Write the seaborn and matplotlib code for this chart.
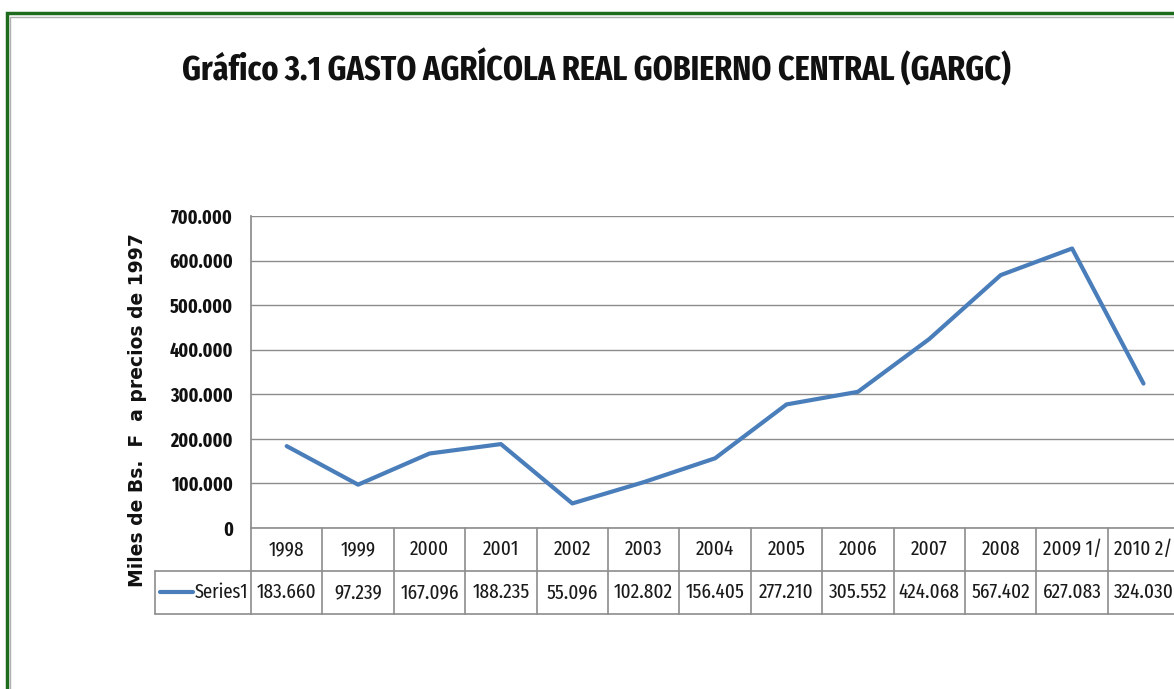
#!/usr/bin/env python3

# Gasto agricola real del gobierno central, line chart with data table.

import matplotlib
matplotlib.use("Agg")
import matplotlib.pyplot as plt
from matplotlib.patches import Rectangle
from matplotlib.ticker import FuncFormatter
import pandas
import seaborn as sns

years = ["1998", "1999", "2000", "2001", "2002", "2003", "2004",
         "2005", "2006", "2007", "2008", "2009 1/", "2010 2/"]
gasto = [183660, 97239, 167096, 188235, 55096, 102802, 156405,
         277210, 305552, 424068, 567402, 627083, 324030]
yticks = [0, 100000, 200000, 300000, 400000, 500000, 600000, 700000]
series_name = "Series1"

title = "Gráfico 3.1 GASTO AGRÍCOLA REAL GOBIERNO CENTRAL (GARGC)"
ylabel = "Miles de Bs.  F  a precios de 1997"

sns.set_theme(style="white")
narrow = ["Fira Sans Extra Condensed", "Roboto Condensed", "DejaVu Sans"]
plt.rcParams["font.family"] = narrow

df = pandas.DataFrame({"year": years, "value": gasto})


def miles(v, pos=None):
    return f"{int(round(v)):,}".replace(",", ".")


fig = plt.figure(figsize=(11.74, 6.89), dpi=100)
# plot area runs a bit past the right edge, like the cropped original
ax = fig.add_axes([251 / 1174, 0.2337, 13 * 71.4 / 1174, 0.4528])

sns.lineplot(data=df, x="year", y="value", ax=ax, color="#4A7EBB",
             linewidth=3, sort=False)

ax.set_xlim(-0.5, len(years) - 0.5)
ax.set_ylim(0, 700000)
ax.set_yticks(yticks)
ax.yaxis.set_major_formatter(FuncFormatter(miles))
ax.grid(axis="y", color="#8c8c8c", linewidth=1)
ax.set_axisbelow(True)
for side in ["top", "right", "bottom"]:
    ax.spines[side].set_visible(False)
ax.spines["left"].set_color("#8c8c8c")
ax.tick_params(axis="y", length=0, pad=13, labelsize=14, labelcolor="#111111")
for lab in ax.get_yticklabels():
    lab.set_fontweight("bold")
ax.set_xticks([])
ax.set_xlabel("")
ax.set_ylabel("")

# data table under the plot
trans = ax.get_xaxis_transform()
row_h = 43 / 313.0
tbl_col = "#8c8c8c"
ax.plot([-0.5, len(years) - 0.5], [0, 0], transform=trans, color=tbl_col,
        linewidth=1.2, clip_on=False)
for i, (yr, v) in enumerate(zip(years, gasto)):
    ax.text(i, -row_h / 2, yr, transform=trans, ha="center", va="center",
            fontsize=15, color="#1a1a1a")
    ax.text(i, -row_h * 1.5, miles(v), transform=trans, ha="center",
            va="center", fontsize=15, color="#1a1a1a")
for i in range(len(years) + 1):
    ax.plot([i - 0.5, i - 0.5], [0, -2 * row_h], transform=trans,
            color=tbl_col, linewidth=1.2, clip_on=False)
leg_x0 = -0.5 - 96 / 71.4
ax.plot([leg_x0, len(years) - 0.5], [-row_h, -row_h], transform=trans,
        color=tbl_col, linewidth=1.2, clip_on=False)
ax.plot([leg_x0, len(years) - 0.5], [-2 * row_h, -2 * row_h],
        transform=trans, color=tbl_col, linewidth=1.2, clip_on=False)
ax.plot([leg_x0, leg_x0], [-row_h, -2 * row_h], transform=trans,
        color=tbl_col, linewidth=1.2, clip_on=False)
ax.plot([leg_x0 + 0.07, leg_x0 + 0.53], [-row_h * 1.5, -row_h * 1.5],
        transform=trans, color="#4A7EBB", linewidth=3, clip_on=False)
ax.text(-0.54, -row_h * 1.5, series_name, transform=trans, ha="right",
        va="center", fontsize=14.5, color="#1a1a1a")

fig.text(0.508, 0.9, title, ha="center", va="center", fontsize=25,
         fontweight="bold", color="#111111")
fig.text(0.117, 0.405, ylabel, rotation=90, ha="center", va="center",
         fontsize=13.5, fontweight="bold", color="#111111",
         family=["DejaVu Sans"])

# green frame
fig.patches.append(Rectangle((7 / 1174, -0.1), 1.2, 0.1 + 676 / 689,
                             transform=fig.transFigure, fill=False,
                             edgecolor="#1e6b1e", linewidth=2.5))
fig.patches.append(Rectangle((10 / 1174, -0.1), 1.2, 0.1 + 672 / 689,
                             transform=fig.transFigure, fill=False,
                             edgecolor="#b0b0b0", linewidth=1))

fig.savefig("out.png", dpi=100)
